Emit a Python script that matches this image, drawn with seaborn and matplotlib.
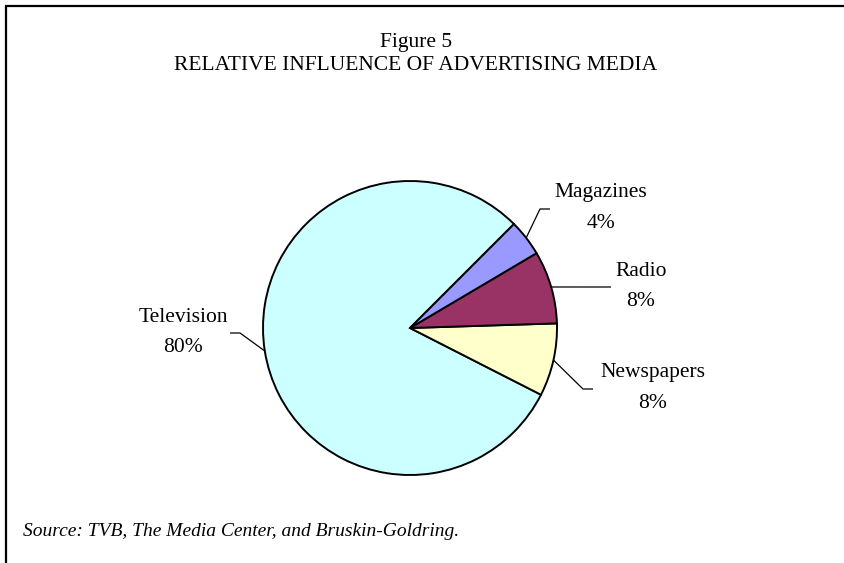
import matplotlib
matplotlib.use("Agg")
import matplotlib.pyplot as plt
import seaborn as sns
import numpy as np

# ---- data ----
categories = ["Television", "Newspapers", "Radio", "Magazines"]
shares = [80, 8, 8, 4]
pct_labels = ["80%", "8%", "8%", "4%"]
title_lines = ["Figure 5", "RELATIVE INFLUENCE OF ADVERTISING MEDIA"]
source_note = "Source: TVB, The Media Center, and Bruskin-Goldring."
slice_colors = ["#CCFFFF", "#FFFFCC", "#993366", "#9999FF"]

sns.set_theme(style="white")
plt.rcParams["font.family"] = ["Liberation Serif", "DejaVu Serif"]
palette = sns.color_palette(slice_colors)

W, H = 845, 563
fig = plt.figure(figsize=(W / 100, H / 100), dpi=100)
fig.patch.set_facecolor("white")
ax = fig.add_axes([0, 0, 1, 1])

def Y(y_img):
    return H - y_img

cx, cy, r = 410, Y(328), 147
wedges, _ = ax.pie(shares, colors=palette, startangle=45, counterclock=True,
                   center=(cx, cy), radius=r,
                   wedgeprops=dict(edgecolor="black", linewidth=1.4))
ax.set_xlim(0, W)
ax.set_ylim(0, H)
ax.set_aspect("equal")
ax.set_axis_off()

# label layout (image coords): elbow point, end point, text center
layout = {
    "Television": dict(elbow=(240, 333), end=(230, 333), text=(183, 318)),
    "Newspapers": dict(elbow=(583, 389), end=(593, 389), text=(653, 373)),
    "Radio": dict(elbow=(611, 287), end=(611, 287), text=(641, 272)),
    "Magazines": dict(elbow=(540, 209), end=(550, 209), text=(601, 193)),
}
fs = 15.5
for w, name, pct in zip(wedges, categories, pct_labels):
    mid = np.deg2rad((w.theta1 + w.theta2) / 2)
    ex, ey = cx + r * np.cos(mid), cy + r * np.sin(mid)
    L = layout[name]
    xs = [ex, L["elbow"][0], L["end"][0]]
    ys = [ey, Y(L["elbow"][1]), Y(L["end"][1])]
    ax.plot(xs, ys, color="black", lw=0.9, solid_capstyle="butt")
    tx, ty = L["text"]
    ax.text(tx, Y(ty), name, ha="center", va="center", fontsize=fs, color="black")
    ax.text(tx, Y(ty + 30), pct, ha="center", va="center", fontsize=fs, color="black")

# titles
ax.text(416, Y(43), title_lines[0], ha="center", va="center", fontsize=15.5, color="black")
ax.text(416, Y(65), title_lines[1], ha="center", va="center", fontsize=15.5, color="black")

# source
ax.text(23, Y(532), source_note, ha="left", va="center", fontsize=14,
        style="italic", color="black")

# border (top and left edges visible)
ax.plot([6, 6, W], [0, Y(6), Y(6)], color="black", lw=1.6, clip_on=False,
        solid_joinstyle="miter")

fig.savefig("out.png", dpi=100, facecolor="white")
